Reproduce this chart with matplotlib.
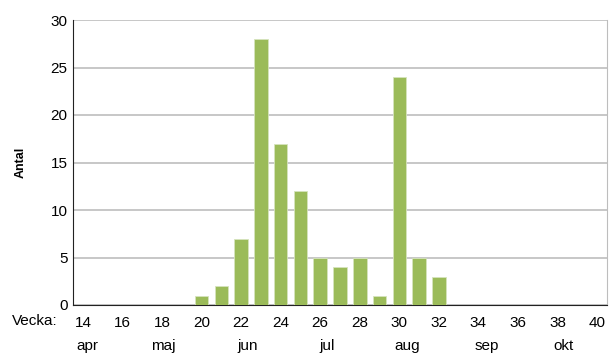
import numpy as np
from matplotlib import pyplot as plt

plt.rcParams["font.family"] = ["Liberation Sans", "DejaVu Sans"]

# weekly counts
weeks = list(range(14, 41))
counts = [0, 0, 0, 0, 0, 0, 1, 2, 7, 28, 17, 12, 5, 4, 5, 1, 24, 5, 3,
          0, 0, 0, 0, 0, 0, 0, 0]
week_ticks = list(range(14, 41, 2))
months = ["apr", "maj", "jun", "jul", "aug", "sep", "okt"]
month_pos = [14.25, 18.05, 22.35, 26.35, 30.4, 34.4, 38.3]

fig = plt.figure(figsize=(6.1, 3.56), dpi=100)
ax = fig.add_axes([73 / 610, 1 - 305 / 356, 534 / 610, 285 / 356])

ax.bar(weeks, counts, width=0.68, color="#9bbb59", edgecolor="#d6e4bd",
       linewidth=0.6, zorder=3)

ax.set_xlim(13.5, 40.5)
ax.set_ylim(0, 30)
ax.set_yticks(range(0, 31, 5))
ax.set_xticks(week_ticks)
ax.tick_params(axis="both", length=0, labelsize=11)
ax.tick_params(axis="x", pad=8)
ax.tick_params(axis="y", pad=4)
ax.grid(axis="y", color="#bdbdbd", linewidth=1.2, zorder=0)

ax.spines["top"].set_visible(False)
ax.spines["right"].set_color("#bdbdbd")
ax.spines["left"].set_color("#222222")
ax.spines["bottom"].set_color("#222222")

ax.set_ylabel("Antal", fontsize=9, fontweight="bold", labelpad=17)

fig.text(12 / 610, 1 - 321 / 356, "Vecka:", fontsize=11, va="center", ha="left")
for m, p in zip(months, month_pos):
    ax.text(p, -0.143, m, transform=ax.get_xaxis_transform(), fontsize=11,
            ha="center", va="center")

plt.savefig("out.png", dpi=100)
